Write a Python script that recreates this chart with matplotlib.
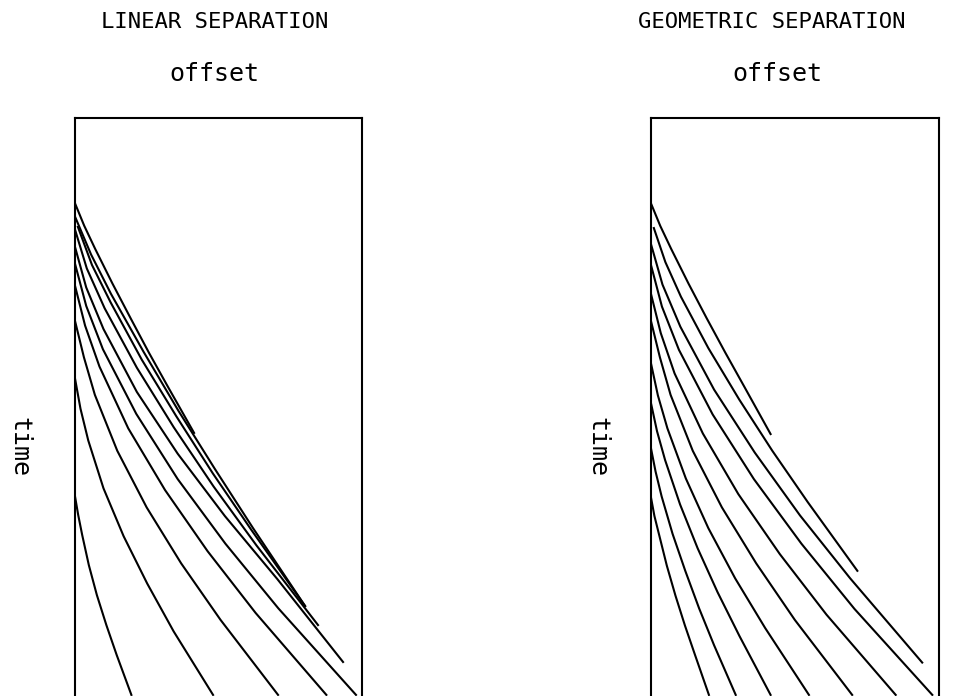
import matplotlib
matplotlib.use("Agg")
import matplotlib.pyplot as plt

# offsets / times are in frame units: offset 0..1 across the frame,
# time 0 at the top of the frame, 1.0 at the lower edge of the picture
linear_offsets = [
    [0.0, 0.033, 0.071, 0.131, 0.194, 0.258, 0.324, 0.415],
    [0.0, 0.057, 0.126, 0.240, 0.361, 0.488, 0.620, 0.801],
    [0.011, 0.060, 0.125, 0.233, 0.353, 0.480, 0.614, 0.801],
    [0.0, 0.042, 0.104, 0.216, 0.344, 0.483, 0.632, 0.846],
    [0.0, 0.040, 0.100, 0.216, 0.358, 0.522, 0.704, 0.933],
    [0.0, 0.040, 0.098, 0.214, 0.358, 0.524, 0.708, 0.978],
    [0.0, 0.036, 0.086, 0.186, 0.314, 0.462, 0.629, 0.875],
    [0.0, 0.032, 0.070, 0.148, 0.250, 0.370, 0.507, 0.707],
    [0.0, 0.020, 0.047, 0.100, 0.170, 0.252, 0.344, 0.481],
    [0.0, 0.012, 0.026, 0.049, 0.077, 0.110, 0.146, 0.197],
]
linear_times = [
    [0.147, 0.187, 0.227, 0.287, 0.347, 0.407, 0.466, 0.546],
    [0.170, 0.237, 0.305, 0.406, 0.508, 0.609, 0.711, 0.846],
    [0.189, 0.255, 0.320, 0.419, 0.517, 0.616, 0.714, 0.846],
    [0.192, 0.261, 0.330, 0.433, 0.536, 0.639, 0.741, 0.879],
    [0.222, 0.294, 0.366, 0.475, 0.582, 0.690, 0.799, 0.943],
    [0.251, 0.326, 0.401, 0.513, 0.626, 0.738, 0.850, 1.0],
    [0.289, 0.360, 0.431, 0.538, 0.645, 0.751, 0.858, 1.0],
    [0.350, 0.415, 0.480, 0.577, 0.675, 0.772, 0.870, 1.0],
    [0.449, 0.504, 0.559, 0.642, 0.725, 0.807, 0.890, 1.0],
    [0.653, 0.688, 0.723, 0.775, 0.827, 0.879, 0.931, 1.0],
]

geometric_offsets = [
    [0.0, 0.033, 0.071, 0.131, 0.194, 0.259, 0.326, 0.416],
    [0.011, 0.051, 0.105, 0.200, 0.307, 0.422, 0.545, 0.717],
    [0.0, 0.041, 0.103, 0.220, 0.361, 0.518, 0.692, 0.942],
    [0.0, 0.039, 0.098, 0.215, 0.358, 0.523, 0.707, 0.977],
    [0.0, 0.035, 0.083, 0.181, 0.304, 0.448, 0.610, 0.850],
    [0.0, 0.032, 0.069, 0.146, 0.247, 0.366, 0.500, 0.699],
    [0.0, 0.025, 0.058, 0.122, 0.200, 0.293, 0.397, 0.549],
    [0.0, 0.022, 0.050, 0.102, 0.163, 0.232, 0.308, 0.416],
    [0.0, 0.017, 0.038, 0.076, 0.120, 0.168, 0.220, 0.295],
    [0.0, 0.013, 0.030, 0.056, 0.086, 0.119, 0.154, 0.202],
]
geometric_times = [
    [0.147, 0.187, 0.227, 0.287, 0.347, 0.407, 0.467, 0.548],
    [0.191, 0.250, 0.310, 0.399, 0.488, 0.577, 0.666, 0.785],
    [0.217, 0.289, 0.362, 0.471, 0.580, 0.689, 0.798, 0.944],
    [0.253, 0.327, 0.402, 0.514, 0.626, 0.738, 0.851, 1.0],
    [0.303, 0.373, 0.443, 0.547, 0.652, 0.756, 0.861, 1.0],
    [0.350, 0.415, 0.480, 0.577, 0.675, 0.772, 0.870, 1.0],
    [0.423, 0.481, 0.538, 0.625, 0.711, 0.798, 0.884, 1.0],
    [0.492, 0.543, 0.593, 0.670, 0.746, 0.822, 0.898, 1.0],
    [0.570, 0.613, 0.656, 0.721, 0.785, 0.850, 0.914, 1.0],
    [0.655, 0.690, 0.724, 0.776, 0.828, 0.880, 0.931, 1.0],
]

titles = ["LINEAR SEPARATION", "GEOMETRIC SEPARATION"]

# plotter-style lettering: monospaced
plt.rcParams["font.family"] = ["DejaVu Sans Mono"]

fig = plt.figure(figsize=(9.58, 6.96), dpi=100)

# frames run past the lower edge of the picture
ax_left = fig.add_axes([0.078, -0.109, 0.3002, 0.9397])
ax_right = fig.add_axes([0.6792, -0.109, 0.3009, 0.9397])


def draw_panel(ax, offsets, times):
    for xs, ts in zip(offsets, times):
        ax.plot(xs, ts, color="black", lw=1.5, solid_joinstyle="round")
    ax.set_xlim(0, 1)
    ax.set_ylim(1.1334, 0)
    ax.set_xticks([])
    ax.set_yticks([])
    for sp in ax.spines.values():
        sp.set_linewidth(1.5)


draw_panel(ax_left, linear_offsets, linear_times)
draw_panel(ax_right, geometric_offsets, geometric_times)

fig.text(215 / 958, 1 - 22 / 696, titles[0], ha="center", va="center", fontsize=16)
fig.text(772 / 958, 1 - 22 / 696, titles[1], ha="center", va="center", fontsize=16)
fig.text(214 / 958, 1 - 74 / 696, "offset", ha="center", va="center", fontsize=18)
fig.text(777 / 958, 1 - 74 / 696, "offset", ha="center", va="center", fontsize=18)
fig.text(19 / 958, 1 - 447 / 696, "time", ha="center", va="center", fontsize=18, rotation=270)
fig.text(597 / 958, 1 - 447 / 696, "time", ha="center", va="center", fontsize=18, rotation=270)

fig.savefig("out.png", dpi=100)
